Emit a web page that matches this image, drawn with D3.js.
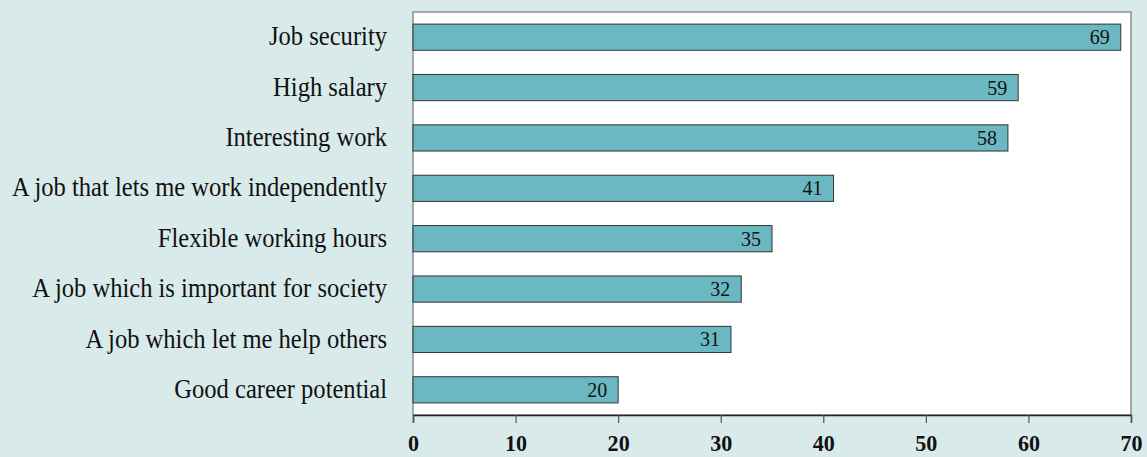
<!DOCTYPE html>
<html><head><meta charset="utf-8">
<script src="https://cdn.jsdelivr.net/npm/d3@7"></script>
<style>body{margin:0;background:#d9eaea;}svg{display:block;}</style>
</head><body>
<script>
const categories = ["Job security","High salary","Interesting work","A job that lets me work independently","Flexible working hours","A job which is important for society","A job which let me help others","Good career potential"];
const values = [69,59,58,41,35,32,31,20];
const ticks = [0,10,20,30,40,50,60,70];

const W=1147,H=457, pLeft=413, pRight=1131, pTop=12, pBottom=415;
const svg=d3.select("body").append("svg").attr("width",W).attr("height",H).style("background","#d9eaea");
const x=d3.scaleLinear().domain([0,70]).range([pLeft,pRight]);
const y=d3.scaleBand().domain(categories).range([pTop,pBottom]).paddingInner(0.48).paddingOuter(0.24);
const font="'Liberation Serif', serif";
const sx=0.91;

svg.append("rect").attr("x",pLeft).attr("y",pTop).attr("width",pRight-pLeft).attr("height",pBottom-pTop)
  .attr("fill","#fff").attr("stroke","#777").attr("stroke-width",1.2);

svg.selectAll("rect.bar").data(values).join("rect").attr("class","bar")
  .attr("x",x(0)).attr("y",(d,i)=>y(categories[i])).attr("width",d=>x(d)-x(0)).attr("height",y.bandwidth())
  .attr("fill","#6bb8c2").attr("stroke","#333").attr("stroke-width",1);

svg.selectAll("text.val").data(values).join("text").attr("class","val")
  .attr("transform",(d,i)=>`translate(${x(d)-11},${y(categories[i])+y.bandwidth()/2}) scale(${sx},1)`)
  .attr("dy","0.32em")
  .attr("text-anchor","end").attr("font-family",font).attr("font-size",22).attr("fill","#111")
  .text(d=>d);

svg.selectAll("text.cat").data(categories).join("text").attr("class","cat")
  .attr("transform",d=>`translate(387,${y(d)+y.bandwidth()/2}) scale(${sx},1)`)
  .attr("dy","0.3em")
  .attr("text-anchor","end").attr("font-family",font).attr("font-size",27).attr("fill","#111")
  .text(d=>d);

const ax=svg.append("g").attr("transform",`translate(0,${pBottom})`)
  .call(d3.axisBottom(x).tickValues(ticks).tickSize(8).tickPadding(10));
ax.select(".domain").attr("stroke","#222").attr("stroke-width",1.5);
ax.selectAll(".tick line").attr("stroke","#555").attr("stroke-width",1.2);
ax.selectAll(".tick text").attr("y",0).attr("dy",0)
  .attr("transform",`translate(0,36) scale(0.92,1)`)
  .attr("font-family",font).attr("font-size",24).attr("font-weight","bold").attr("fill","#111");
</script>
</body></html>
